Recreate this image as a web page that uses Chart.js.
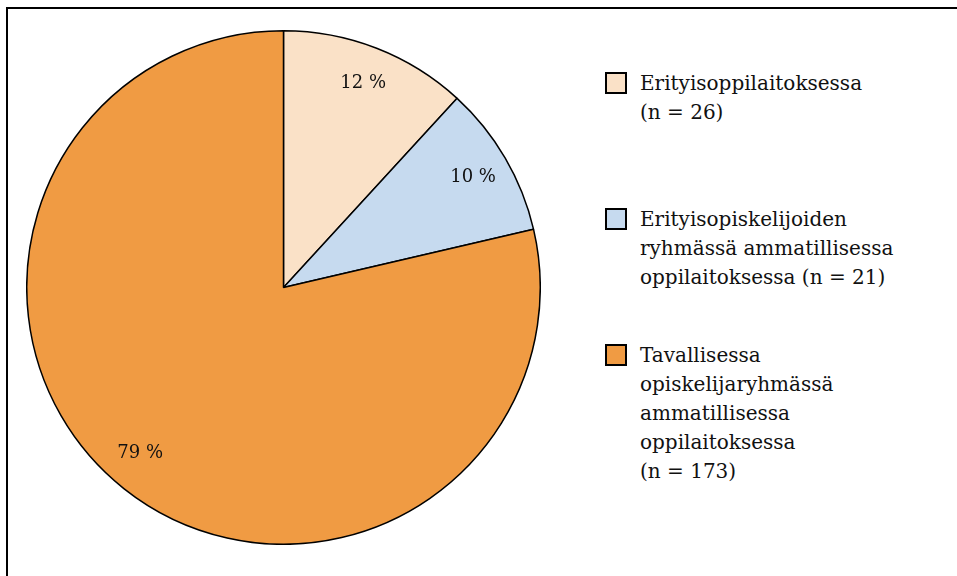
<!DOCTYPE html>
<html>
<head>
<meta charset="utf-8">
<script src="https://cdn.jsdelivr.net/npm/chart.js@4"></script>
<style>
  body { margin: 0; background: #fff; width: 957px; height: 576px; overflow: hidden; position: relative; }
  #frame { position: absolute; left: 6px; top: 7px; width: 980px; height: 600px; border: 2px solid #000; box-sizing: border-box; }
  #wrap { position: absolute; left: 26px; top: 30px; width: 515px; height: 515px; }
  #legend { position: absolute; left: 0; top: 0; font-family: "DejaVu Serif", serif; font-size: 20px; color: #111; }
  .item { position: absolute; left: 605px; white-space: nowrap; }
  .box { position: absolute; left: 0; width: 22px; height: 22px; border: 2px solid #000; box-sizing: border-box; }
  .txt { position: absolute; left: 35px; line-height: 29px; }
</style>
</head>
<body>
<div id="frame"></div>
<div id="wrap"><canvas id="pie"></canvas></div>
<div id="legend"></div>
<script>
const categories = [
  ["Erityisoppilaitoksessa", "(n = 26)"],
  ["Erityisopiskelijoiden", "ryhmässä ammatillisessa", "oppilaitoksessa (n = 21)"],
  ["Tavallisessa", "opiskelijaryhmässä", "ammatillisessa", "oppilaitoksessa", "(n = 173)"]
];
const counts = [26, 21, 173];
const percentLabels = ["12 %", "10 %", "79 %"];
const colors = ["#FAE1C7", "#C6DAEF", "#F09B43"];

// legend (wraps like the original, so built as html)
const legend = document.getElementById("legend");
const lineTops = [69, 205, 341];
categories.forEach((lines, i) => {
  const item = document.createElement("div");
  item.className = "item";
  item.style.top = lineTops[i] + "px";
  item.innerHTML = `<div class="box" style="top:3px;background:${colors[i]}"></div>` +
    `<div class="txt">${lines.join("<br>")}</div>`;
  legend.appendChild(item);
});

const sliceLabels = {
  id: "sliceLabels",
  afterDatasetsDraw(chart) {
    const ctx = chart.ctx;
    ctx.save();
    ctx.font = '18px "DejaVu Serif", serif';
    ctx.fillStyle = "#111";
    ctx.textAlign = "center";
    ctx.textBaseline = "middle";
    chart.getDatasetMeta(0).data.forEach((arc, i) => {
      const mid = (arc.startAngle + arc.endAngle) / 2 + (i === 2 ? 0.04 : 0);
      const r = arc.outerRadius * 0.855;
      ctx.fillText(percentLabels[i], arc.x + Math.cos(mid) * r, arc.y + Math.sin(mid) * r);
    });
    ctx.restore();
  }
};

new Chart(document.getElementById("pie"), {
  type: "pie",
  data: {
    labels: categories.map(c => c.join(" ")),
    datasets: [{
      data: counts,
      backgroundColor: colors,
      borderColor: "#000",
      borderWidth: 1.5
    }]
  },
  options: {
    responsive: true,
    maintainAspectRatio: false,
    animation: false,
    layout: { padding: 0 },
    plugins: { legend: { display: false }, tooltip: { enabled: false } }
  },
  plugins: [sliceLabels]
});
</script>
</body>
</html>
